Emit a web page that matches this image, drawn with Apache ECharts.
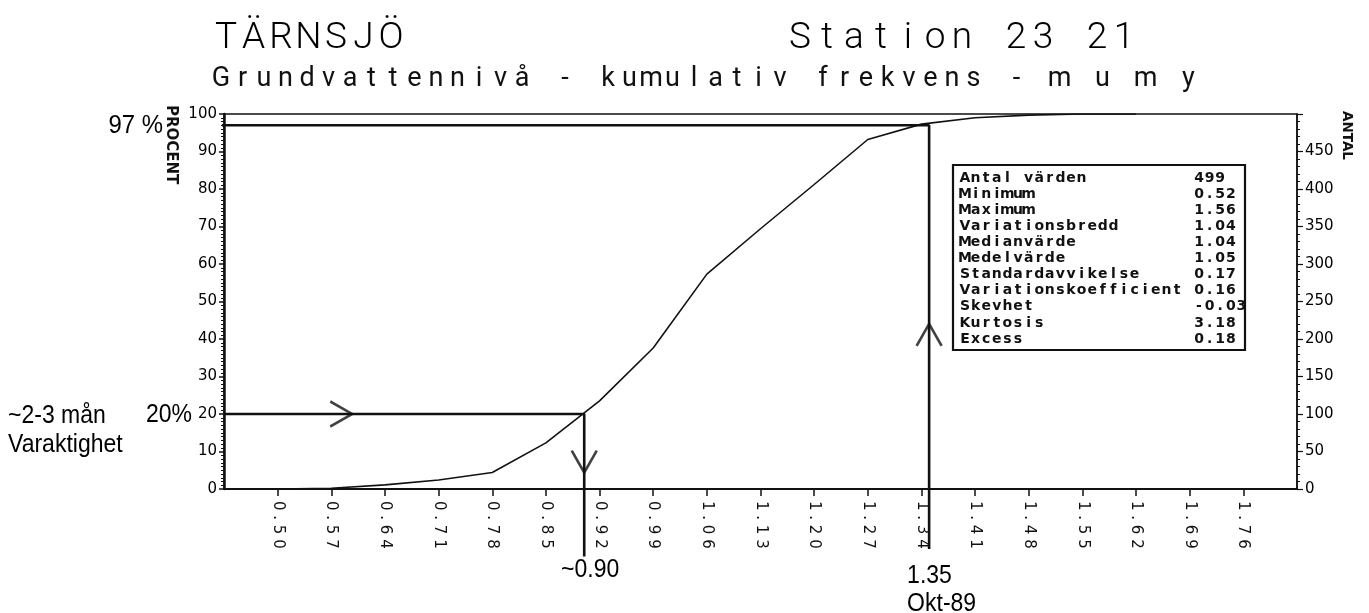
<!DOCTYPE html>
<html>
<head>
<meta charset="utf-8">
<script src="https://cdn.jsdelivr.net/npm/echarts@6/dist/echarts.min.js"></script>
<style>
  html, body { margin: 0; padding: 0; background: #fff; }
  #chart { width: 1369px; height: 613px; }
</style>
</head>
<body>
<div id="chart"></div>
<script>
// Groundwater level, cumulative frequency (Tärnsjö, station 23 21)
const titleText = 'TÄRNSJÖ';
const stationText = 'Station 23 21';
const subtitleText = 'Grundvattennivå - kumulativ frekvens - m u m y';

// Class boundaries (m below ground) and cumulative frequency in percent
const levels = [0.50, 0.57, 0.64, 0.71, 0.78, 0.85, 0.92, 0.99, 1.06, 1.13, 1.20, 1.27, 1.34, 1.41, 1.48, 1.55, 1.62];
const cumPercent = [0, 0.2, 1.1, 2.4, 4.4, 12.3, 23.5, 37.6, 57.3, 69.4, 81.2, 93.2, 97.3, 99.0, 99.7, 100, 100];

// Level axis: first position and step of the tick labels
const levelStart = 0.43;
const levelStep = 0.07;
const levelSteps = 20;

// Count axis (ANTAL)
const countMax = 500;
const countStep = 50;

// Statistics table
const statLabels = ['Antal värden', 'Minimum', 'Maximum', 'Variationsbredd', 'Medianvärde', 'Medelvärde',
  'Standardavvikelse', 'Variationskoefficient', 'Skevhet', 'Kurtosis', 'Excess'];
const statValues = ['499', '0.52', '1.56', '1.04', '1.04', '1.05', '0.17', '0.16', '-0.03', '3.18', '0.18'];

// Reading guides: 20 % duration and the October 1989 level
const durationPath = [[0.43, 20], [0.90, 20], [0.90, -18]];
const octoberPath = [[0.375, 97], [1.35, 97], [1.35, -16]];
// Arrow heads along the guides: [level, percent, direction in degrees]
const arrowMarks = [[0.583, 20, 0], [0.90, 7.3, -90], [1.35, 41.1, 90]];

const shift = v => +(v - levelStart).toFixed(4);
const toAxis = pts => pts.map(p => [shift(p[0]), p[1]]);

const chart = echarts.init(document.getElementById('chart'), null, { renderer: 'canvas' });

const INK = '#111';
const labelFont = 'DejaVu Sans';
const plotFont = 'Roboto';
const noteFont = "'Liberation Sans', Arial, sans-serif";

const option = {
  backgroundColor: '#fff',
  animation: false,
  grid: {
    left: 224, right: 72, top: 114, bottom: 124,
    show: true, borderColor: INK, borderWidth: 1.5,
    outerBoundsMode: 'none'
  },
  xAxis: {
    type: 'value',
    min: 0,
    max: +(levelStep * levelSteps).toFixed(2),
    interval: levelStep,
    axisLine: { show: true, onZero: false, lineStyle: { color: INK, width: 2 } },
    axisTick: { show: true, length: 7, lineStyle: { color: INK, width: 1.5 } },
    splitLine: { show: false },
    axisLabel: {
      showMinLabel: false, showMaxLabel: false,
      rotate: -90, margin: 12,
      color: INK, fontFamily: labelFont, fontSize: 15,
      formatter: v => (v + levelStart).toFixed(2).split('').join(' ')
    }
  },
  yAxis: [{
    type: 'value', position: 'left',
    min: 0, max: 100, interval: 10,
    axisLine: { show: true, lineStyle: { color: INK, width: 2.5 } },
    axisTick: { show: true, length: 5, lineStyle: { color: INK, width: 1.5 } },
    minorTick: { show: true, splitNumber: 10, length: 3, lineStyle: { color: INK, width: 1 } },
    splitLine: { show: false },
    axisLabel: { margin: 7, color: '#000', fontFamily: labelFont, fontSize: 15 }
  }, {
    type: 'value', position: 'right',
    min: 0, max: countMax, interval: countStep,
    axisLine: { show: true, lineStyle: { color: INK, width: 1.5 } },
    axisTick: { show: true, length: 6, lineStyle: { color: INK, width: 1.2 } },
    minorTick: { show: true, splitNumber: 5, length: 3, lineStyle: { color: INK, width: 1 } },
    splitLine: { show: false },
    axisLabel: { showMaxLabel: false, margin: 8, color: '#000', fontFamily: labelFont, fontSize: 15 }
  }],
  series: [{
    name: 'Kumulativ frekvens',
    type: 'line',
    data: levels.map((v, i) => [shift(v), cumPercent[i]]),
    showSymbol: false,
    lineStyle: { color: INK, width: 1.6 },
    z: 3
  }, {
    name: 'Varaktighet 20 %',
    type: 'line',
    data: toAxis(durationPath),
    clip: false,
    showSymbol: false,
    lineStyle: { color: INK, width: 2.6 },
    z: 4
  }, {
    name: 'Okt-89',
    type: 'line',
    data: toAxis(octoberPath),
    clip: false,
    showSymbol: false,
    lineStyle: { color: INK, width: 2.6 },
    z: 4
  }, {
    name: 'Pilar',
    type: 'scatter',
    data: arrowMarks.map(a => ({ value: [shift(a[0]), a[1]], symbolRotate: a[2] })),
    symbol: 'path://M0,0L22,12L0,24',
    symbolSize: [22, 25],
    symbolKeepAspect: false,
    itemStyle: { color: 'rgba(0,0,0,0)', borderColor: INK, borderWidth: 2.4 },
    silent: true,
    z: 5
  }]
};

chart.setOption(option);

// Letter-spaced text, one glyph per element
function spaced(str, x, y, pitch, style) {
  return str.split('').map((ch, i) => ({
    type: 'text', silent: true,
    x: x + i * pitch, y: y,
    style: Object.assign({
      text: ch, fill: INK,
      align: 'center', verticalAlign: 'middle',
      textAlign: 'center', textVerticalAlign: 'middle'
    }, style)
  }));
}

// Condensed hand-lettered notes
function note(text, x, y, align, size) {
  return {
    type: 'text', silent: true, x: x, y: y, scaleX: 0.92,
    style: {
      text: text, fill: '#000', fontFamily: noteFont, fontSize: size || 25,
      align: align, verticalAlign: 'middle', textAlign: align, textVerticalAlign: 'middle'
    }
  };
}

const px = (lv, pc) => chart.convertToPixel({ gridIndex: 0 }, [shift(lv), pc]);

const titleStyle = { fontFamily: plotFont, fontWeight: 300, fontSize: 37, fill: '#000' };
const subStyle = { fontFamily: plotFont, fontWeight: 400, fontSize: 27, fill: '#111' };
const statStyle = { fontFamily: labelFont, fontSize: 14, fontWeight: 'bold' };

const graphics = [];
graphics.push(...spaced(titleText, 226, 39, 27.5, titleStyle));
graphics.push(...spaced(stationText, 800, 39, 27, titleStyle));
graphics.push(...spaced(subtitleText, 221, 79, 21.5, subStyle));

// Axis names
graphics.push({
  type: 'text', silent: true, x: 171, y: 105, rotation: -Math.PI / 2,
  style: { text: 'PROCENT', fill: INK, fontFamily: labelFont, fontSize: 15, fontWeight: 'bold',
    align: 'left', verticalAlign: 'middle', textAlign: 'left', textVerticalAlign: 'middle' }
});
graphics.push({
  type: 'text', silent: true, x: 1346, y: 111, rotation: -Math.PI / 2,
  style: { text: 'ANTAL', fill: INK, fontFamily: labelFont, fontSize: 13.5, fontWeight: 'bold',
    align: 'left', verticalAlign: 'middle', textAlign: 'left', textVerticalAlign: 'middle' }
});

// Statistics table
const boxLeft = 953, boxTop = 165, boxW = 292, boxH = 185;
graphics.push({
  type: 'rect', silent: true,
  shape: { x: boxLeft, y: boxTop, width: boxW, height: boxH },
  style: { fill: '#fff', stroke: INK, lineWidth: 2.2 }, z: 10
});
statLabels.forEach((lab, i) => {
  const y = 178 + i * 16.1;
  spaced(lab, 965, y, 10.6, statStyle).forEach(g => { g.z = 11; graphics.push(g); });
  spaced(statValues[i], 1199, y, 10.6, statStyle).forEach(g => { g.z = 11; graphics.push(g); });
});

// Notes tied to the guides
const p97 = px(levelStart, 97);
const p20 = px(levelStart, 20);
const p090 = px(0.90, 0);
const p135 = px(1.35, 0);
graphics.push(note('97 %', 163, p97[1] + 1, 'right', 26));
graphics.push(note('20%', 192, p20[1] + 1, 'right', 25));
graphics.push(note('~2-3 mån', 8, p20[1] + 2, 'left', 25));
graphics.push(note('Varaktighet', 8, p20[1] + 31, 'left', 25));
graphics.push(note('~0.90', p090[0] + 6, 570, 'center', 25));
graphics.push(note('1.35', p135[0] - 22, 576, 'left', 25));
graphics.push(note('Okt-89', p135[0] - 22, 604, 'left', 25));

chart.setOption({ graphic: graphics });
</script>
</body>
</html>
